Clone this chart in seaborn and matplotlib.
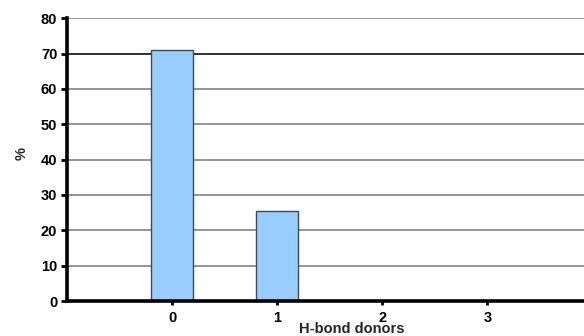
import matplotlib
matplotlib.use("Agg")
import matplotlib.pyplot as plt
import seaborn as sns
import pandas as pd

# H-bond donor count distribution (% of compounds)
donors = ["0", "1", "2", "3"]
percent = [71.0, 25.4, 0.0, 0.0]
y_ticks = [0, 10, 20, 30, 40, 50, 60, 70, 80]

sns.set_style("white")
plt.rcParams["font.family"] = ["Liberation Sans", "DejaVu Sans"]
plt.rcParams["font.weight"] = "bold"

df = pd.DataFrame({"donors": donors, "percent": percent})

fig = plt.figure(figsize=(5.84, 3.36), dpi=100)
ax = fig.add_axes([0.1147, 0.104, 0.8853, 0.842])

# horizontal gridlines
for t in y_ticks[1:]:
    col = "#303030" if t == 70 else "#959595"
    ax.axhline(t, color=col, lw=1.4, zorder=1)

sns.barplot(data=df, x="donors", y="percent", order=donors, width=0.4,
            color="#99ccff", saturation=1, edgecolor="#3c4a58",
            linewidth=1.0, ax=ax, zorder=2)

ax.set_ylim(0, 80)
ax.set_xlim(-1, 3.92)
ax.set_yticks(y_ticks)
ax.set_yticklabels([str(t) for t in y_ticks], fontsize=10.5, fontweight="bold")
ax.set_xticks(range(len(donors)))
ax.set_xticklabels(donors, fontsize=10.5, fontweight="bold")

for side in ["top", "right"]:
    ax.spines[side].set_visible(False)
for side in ["left", "bottom"]:
    ax.spines[side].set_linewidth(2.6)
    ax.spines[side].set_color("black")
    ax.spines[side].set_zorder(5)

ax.tick_params(axis="y", direction="out", length=4, width=2, pad=3, colors="black")
ax.tick_params(axis="x", direction="out", length=3, width=2, pad=4, colors="black")
ax.tick_params(left=True, bottom=True)

ax.set_xlabel("H-bond donors", fontsize=10.5, fontweight="bold", labelpad=0)
ax.xaxis.set_label_coords((352 - 67) / (584 - 67), -0.075)
ax.set_ylabel("%", fontsize=10.5, fontweight="bold")
ax.yaxis.set_label_coords(-0.075, 0.52)

fig.savefig("out.png", dpi=100)
